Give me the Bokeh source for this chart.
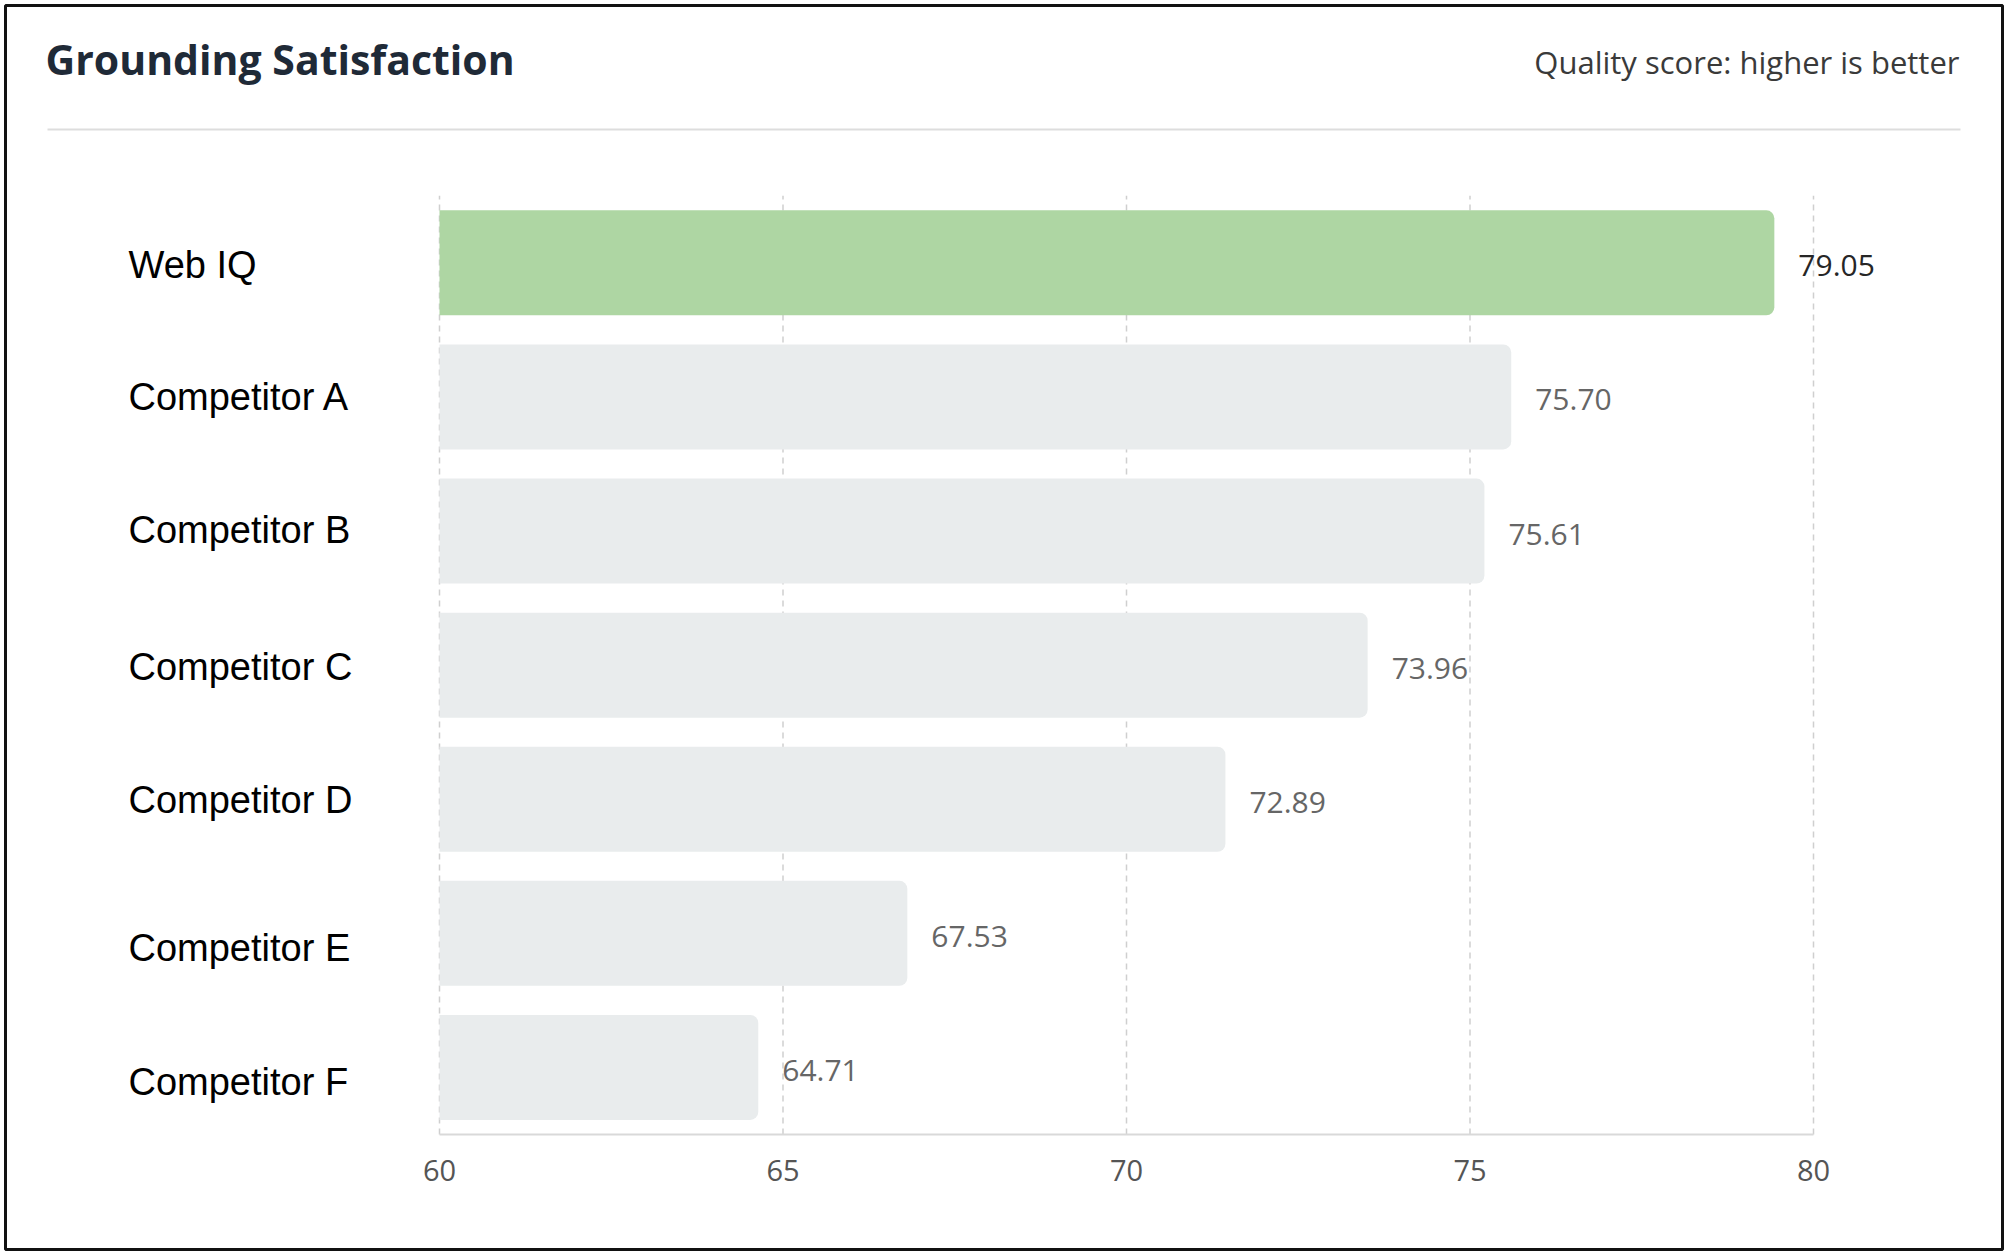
from bokeh.plotting import figure
from bokeh.models import Range1d, Label, ColumnDataSource, BoxAnnotation
from bokeh.core.properties import value
from bokeh.embed import file_html
from bokeh.resources import INLINE

# ---------------- data ----------------
categories = ["Web IQ", "Competitor A", "Competitor B", "Competitor C",
              "Competitor D", "Competitor E", "Competitor F"]
bar_values = [79.43, 75.60, 75.21, 73.51, 71.44, 66.81, 64.64]   # bar lengths as drawn
value_labels = ["79.05", "75.70", "75.61", "73.96", "72.89", "67.53", "64.71"]
x_ticks = [60, 65, 70, 75, 80]
tick_labels = ["60", "65", "70", "75", "80"]
baseline = 60
highlight = "Web IQ"
title_text = "Grounding Satisfaction"
subtitle_text = "Quality score: higher is better"

# ---------------- layout / style ----------------
W, H = 2007, 1255
X60_PX, X80_PX = 439, 1813          # x of 60 and 80
AXIS_Y = 1134                       # y of the axis line
BAND_PX = 134.1
label_nudge_px = [2, 0, -1, 2, 1, 15, 15]

ppu = (X80_PX - X60_PX) / (x_ticks[-1] - x_ticks[0])
x_start = x_ticks[0] - X60_PX / ppu
x_end = x_start + W / ppu
y_start = -(H - AXIS_Y) / BAND_PX
y_end = AXIS_Y / BAND_PX


def X(px):
    return x_start + px / ppu


def Y(py):
    return (AXIS_Y - py) / BAND_PX


n = len(categories)
ys = [n - 0.5 - i for i in range(n)]
colors = ["#aed6a3" if c == highlight else "#e9eced" for c in categories]
lcolors = ["#262626" if c == highlight else "#666666" for c in categories]

src = ColumnDataSource(dict(cat=categories, v=bar_values, lab=value_labels,
                            y=ys, color=colors, lcolor=lcolors,
                            nudge=label_nudge_px))
tick_src = ColumnDataSource(dict(x=x_ticks, t=tick_labels,
                                 y0=[0] * len(x_ticks), y1=[n] * len(x_ticks)))

p = figure(width=W, height=H, x_range=Range1d(x_start, x_end),
           y_range=Range1d(y_start, y_end), output_backend="svg",
           toolbar_location=None, x_axis_location=None, y_axis_location=None,
           min_border=0)
p.outline_line_color = None
p.grid.visible = False
p.background_fill_color = "white"
p.border_fill_color = "white"

# dashed vertical grid lines
p.segment(x0="x", x1="x", y0="y0", y1="y1", source=tick_src,
          line_color="#cfcfcf", line_width=1.5, line_dash="6 5")

# bars
p.hbar(y="y", left=baseline, right="v", height=0.783, fill_color="color",
       line_color=None, border_radius=(0, 8, 8, 0), source=src)

# x axis line and tick labels
p.segment(x0=[x_ticks[0]], x1=[x_ticks[-1]], y0=[0], y1=[0],
          line_color="#d9d9d9", line_width=2)
p.text(x="x", y="y0", text="t", source=tick_src, y_offset=36,
       text_font=value("Open Sans"), text_font_size="29px",
       text_color="#555555", text_align="center", text_baseline="middle")

# value labels
p.text(x="v", y="y", text="lab", x_offset=24, y_offset=3,
       text_font=value("Open Sans"), text_font_size="30px",
       text_color="lcolor", text_align="left", text_baseline="middle",
       source=src)

# category labels
p.text(x=x_start, y="y", text="cat", x_offset=128, y_offset="nudge",
       text_font=value("Liberation Sans"), text_font_size="38px",
       text_color="#000000", text_align="left", text_baseline="middle",
       source=src)

# header separator
p.segment(x0=[X(47)], x1=[X(1960)], y0=[Y(129)], y1=[Y(129)],
          line_color="#dddddd", line_width=2)

p.add_layout(Label(x=45, y=H - 58, x_units="screen",
                   y_units="screen", text=title_text, text_font="Open Sans",
                   text_font_style="bold", text_font_size="41px",
                   text_color="#1f2a37", text_baseline="alphabetic"))
p.add_layout(Label(x=1959, y=H - 61, x_units="screen",
                   y_units="screen", text=subtitle_text, text_font="Open Sans",
                   text_font_size="31px", text_color="#3a3a3a",
                   text_align="right", text_baseline="alphabetic"))

# card border
p.add_layout(BoxAnnotation(left=5, right=W - 5, top=H - 5, bottom=6,
                           left_units="screen", right_units="screen",
                           top_units="screen", bottom_units="screen",
                           fill_color=None, fill_alpha=0,
                           line_color="#111111", line_width=3, line_alpha=1))

open("out.html", "w").write(file_html(p, INLINE))
